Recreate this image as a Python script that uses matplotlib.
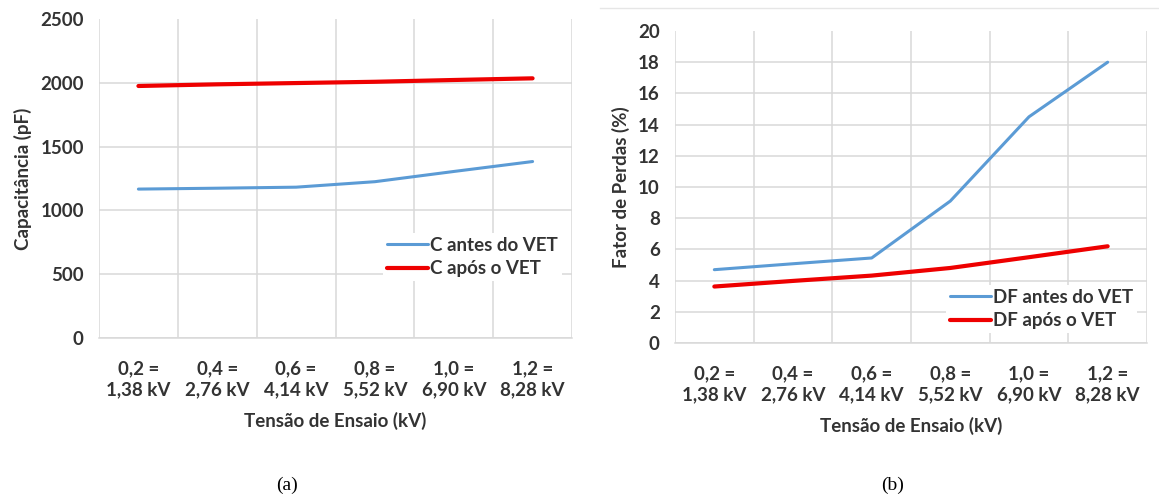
import matplotlib.pyplot as plt
from matplotlib.lines import Line2D

# categories (test voltage)
categories = ["0,2 =\n1,38 kV", "0,4 =\n2,76 kV", "0,6 =\n4,14 kV",
              "0,8 =\n5,52 kV", "1,0 =\n6,90 kV", "1,2 =\n8,28 kV"]

# (a) capacitance, pF
c_antes = [1167, 1174, 1182, 1225, 1305, 1383]
c_apos = [1975, 1988, 1998, 2008, 2022, 2035]

# (b) dissipation factor, %
df_antes = [4.7, 5.08, 5.45, 9.1, 14.5, 18.0]
df_apos = [3.62, 3.98, 4.32, 4.81, 5.5, 6.2]

BLUE = '#5b9bd5'
RED = '#ee0000'
GRID = '#d9d9d9'
TXT = '#333333'
FS = 13.5

plt.rcParams['font.family'] = ['Lato', 'DejaVu Sans']
plt.rcParams['font.weight'] = 'bold'
plt.rcParams['axes.labelweight'] = 'bold'
plt.rcParams['font.size'] = FS

W, H = 1159, 497
fig = plt.figure(figsize=(W / 100, H / 100), dpi=100)


def px_axes(x0, x1, y_top, y_bot):
    return fig.add_axes([x0 / W, 1 - y_bot / H, (x1 - x0) / W, (y_bot - y_top) / H])


def style(ax, ymax, step):
    n = len(categories)
    ax.set_xlim(-0.5, n - 0.5)
    ax.set_ylim(0, ymax)
    ax.set_xticks(range(n))
    ax.set_xticklabels(categories, linespacing=1.3)
    ax.set_xticks([i - 0.5 for i in range(n + 1)], minor=True)
    ax.set_yticks(range(0, int(ymax) + 1, step))
    ax.tick_params(axis='both', which='both', length=0, colors=TXT)
    ax.tick_params(axis='y', pad=11)
    ax.tick_params(axis='x', pad=16)
    ax.grid(True, axis='y', which='major', color=GRID, lw=1.1)
    ax.grid(True, axis='x', which='minor', color=GRID, lw=1.1)
    ax.get_ygridlines()[-1].set_visible(False)
    for s in ['top', 'right', 'left']:
        ax.spines[s].set_visible(False)
    ax.spines['bottom'].set_color(GRID)
    ax.spines['bottom'].set_linewidth(1.1)
    ax.set_axisbelow(True)
    ax.set_xlabel("Tensão de Ensaio (kV)", color=TXT, labelpad=10)


def style_legend(ax, right_px, center_px):
    leg = ax.legend(loc='center right', bbox_to_anchor=(right_px / W, 1 - center_px / H),
                    bbox_transform=fig.transFigure, frameon=True, framealpha=1,
                    edgecolor='none', handlelength=2.2, handletextpad=0.1,
                    labelspacing=0.35, borderpad=0.2, fontsize=FS)
    for t in leg.get_texts():
        t.set_color(TXT)


x = range(len(categories))

# (a)
ax1 = px_axes(99, 572, 19, 338)
style(ax1, 2500, 500)
ax1.plot(x, c_antes, color=BLUE, lw=2.2, solid_capstyle='round', label="C antes do VET")
ax1.plot(x, c_apos, color=RED, lw=3.0, solid_capstyle='round', label="C após o VET")
ax1.set_ylabel("Capacitância (pF)", color=TXT, labelpad=6)
style_legend(ax1, 571, 257)

# (b)
ax2 = px_axes(675, 1147, 31, 343)
style(ax2, 20, 2)
ax2.plot(x, df_antes, color=BLUE, lw=2.2, solid_capstyle='round', label="DF antes do VET")
ax2.plot(x, df_apos, color=RED, lw=3.0, solid_capstyle='round', label="DF após o VET")
ax2.set_ylabel("Fator de Perdas (%)", color=TXT, labelpad=6)
style_legend(ax2, 1146, 309)

# light chart frame of panel (b)
fig.add_artist(Line2D([600 / W, 1], [1 - 8 / H, 1 - 8 / H], color='#e6e6e6', lw=1))

# sub-captions
fig.text(287 / W, 1 - 485 / H, "(a)", family='Liberation Serif', weight='normal',
         fontsize=14, ha='center', va='center', color='black')
fig.text(893 / W, 1 - 485 / H, "(b)", family='Liberation Serif', weight='normal',
         fontsize=14, ha='center', va='center', color='black')

fig.savefig("out.png", dpi=100)
